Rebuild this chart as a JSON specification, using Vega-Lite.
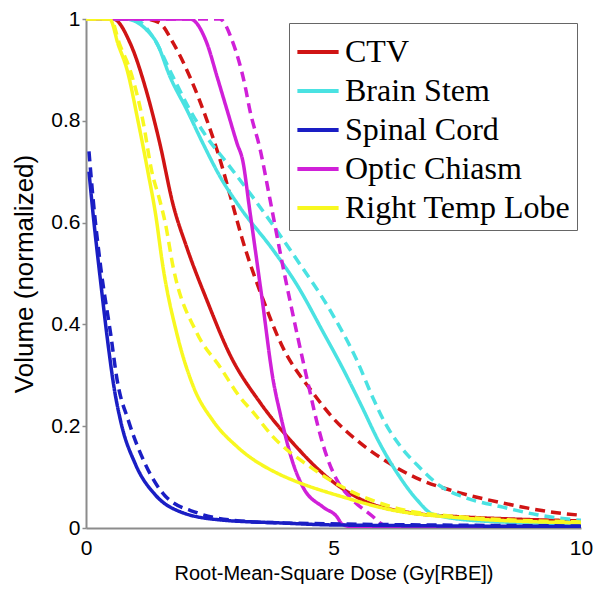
{
  "$schema": "https://vega.github.io/schema/vega-lite/v6.json",
  "width": 495,
  "height": 509,
  "autosize": {"type": "none"},
  "padding": {"left": 86, "top": 19, "right": 23, "bottom": 66},
  "background": "white",
  "config": {
    "view": {"stroke": null},
    "axis": {
      "domainColor": "#8c8c8c",
      "domainWidth": 2,
      "tickColor": "#8c8c8c",
      "tickWidth": 1.5,
      "grid": false,
      "labelFont": "Liberation Sans",
      "labelColor": "#000",
      "titleFont": "Liberation Sans",
      "titleColor": "#000",
      "titleFontWeight": "normal"
    }
  },
  "data": {"values": [
    {"organ":"CTV","plan":"A","x":0,"y":1},{"organ":"CTV","plan":"A","x":0.55,"y":1},{"organ":"CTV","plan":"A","x":0.89,"y":0.953},{"organ":"CTV","plan":"A","x":1.23,"y":0.855},{"organ":"CTV","plan":"A","x":1.49,"y":0.756},{"organ":"CTV","plan":"A","x":1.76,"y":0.635},{"organ":"CTV","plan":"A","x":2.04,"y":0.55},{"organ":"CTV","plan":"A","x":2.44,"y":0.448},{"organ":"CTV","plan":"A","x":2.91,"y":0.34},{"organ":"CTV","plan":"A","x":3.52,"y":0.246},{"organ":"CTV","plan":"A","x":4.18,"y":0.167},{"organ":"CTV","plan":"A","x":4.87,"y":0.1},{"organ":"CTV","plan":"A","x":5.54,"y":0.057},{"organ":"CTV","plan":"A","x":6.55,"y":0.03},{"organ":"CTV","plan":"A","x":7.56,"y":0.022},{"organ":"CTV","plan":"A","x":8.5,"y":0.018},{"organ":"CTV","plan":"A","x":10,"y":0.014},
    {"organ":"CTV","plan":"B","x":0,"y":1},{"organ":"CTV","plan":"B","x":1.2,"y":1},{"organ":"CTV","plan":"B","x":1.49,"y":0.992},{"organ":"CTV","plan":"B","x":1.76,"y":0.953},{"organ":"CTV","plan":"B","x":2.1,"y":0.886},{"organ":"CTV","plan":"B","x":2.44,"y":0.802},{"organ":"CTV","plan":"B","x":2.71,"y":0.723},{"organ":"CTV","plan":"B","x":2.95,"y":0.64},{"organ":"CTV","plan":"B","x":3.15,"y":0.57},{"organ":"CTV","plan":"B","x":3.58,"y":0.448},{"organ":"CTV","plan":"B","x":3.95,"y":0.36},{"organ":"CTV","plan":"B","x":4.59,"y":0.265},{"organ":"CTV","plan":"B","x":5.0,"y":0.215},{"organ":"CTV","plan":"B","x":5.5,"y":0.17},{"organ":"CTV","plan":"B","x":6.08,"y":0.13},{"organ":"CTV","plan":"B","x":6.75,"y":0.095},{"organ":"CTV","plan":"B","x":7.41,"y":0.073},{"organ":"CTV","plan":"B","x":8.42,"y":0.049},{"organ":"CTV","plan":"B","x":9.43,"y":0.031},{"organ":"CTV","plan":"B","x":10,"y":0.025},
    {"organ":"Brain Stem","plan":"A","x":0,"y":1},{"organ":"Brain Stem","plan":"A","x":0.8,"y":1},{"organ":"Brain Stem","plan":"A","x":1.23,"y":0.978},{"organ":"Brain Stem","plan":"A","x":1.43,"y":0.953},{"organ":"Brain Stem","plan":"A","x":1.7,"y":0.886},{"organ":"Brain Stem","plan":"A","x":2.04,"y":0.821},{"organ":"Brain Stem","plan":"A","x":2.36,"y":0.756},{"organ":"Brain Stem","plan":"A","x":2.71,"y":0.69},{"organ":"Brain Stem","plan":"A","x":3.11,"y":0.63},{"organ":"Brain Stem","plan":"A","x":3.78,"y":0.546},{"organ":"Brain Stem","plan":"A","x":4.26,"y":0.478},{"organ":"Brain Stem","plan":"A","x":4.79,"y":0.385},{"organ":"Brain Stem","plan":"A","x":5.19,"y":0.313},{"organ":"Brain Stem","plan":"A","x":5.54,"y":0.245},{"organ":"Brain Stem","plan":"A","x":5.94,"y":0.165},{"organ":"Brain Stem","plan":"A","x":6.34,"y":0.1},{"organ":"Brain Stem","plan":"A","x":6.69,"y":0.055},{"organ":"Brain Stem","plan":"A","x":7.01,"y":0.027},{"organ":"Brain Stem","plan":"A","x":7.96,"y":0.014},{"organ":"Brain Stem","plan":"A","x":10,"y":0.008},
    {"organ":"Brain Stem","plan":"B","x":0,"y":1},{"organ":"Brain Stem","plan":"B","x":0.9,"y":1},{"organ":"Brain Stem","plan":"B","x":1.03,"y":0.998},{"organ":"Brain Stem","plan":"B","x":1.35,"y":0.965},{"organ":"Brain Stem","plan":"B","x":1.76,"y":0.886},{"organ":"Brain Stem","plan":"B","x":2.1,"y":0.821},{"organ":"Brain Stem","plan":"B","x":2.44,"y":0.768},{"organ":"Brain Stem","plan":"B","x":2.85,"y":0.717},{"organ":"Brain Stem","plan":"B","x":3.37,"y":0.65},{"organ":"Brain Stem","plan":"B","x":4.26,"y":0.527},{"organ":"Brain Stem","plan":"B","x":4.93,"y":0.428},{"organ":"Brain Stem","plan":"B","x":5.47,"y":0.33},{"organ":"Brain Stem","plan":"B","x":5.8,"y":0.255},{"organ":"Brain Stem","plan":"B","x":6.05,"y":0.205},{"organ":"Brain Stem","plan":"B","x":6.34,"y":0.162},{"organ":"Brain Stem","plan":"B","x":6.75,"y":0.118},{"organ":"Brain Stem","plan":"B","x":7.15,"y":0.083},{"organ":"Brain Stem","plan":"B","x":7.62,"y":0.061},{"organ":"Brain Stem","plan":"B","x":8.42,"y":0.041},{"organ":"Brain Stem","plan":"B","x":9.11,"y":0.026},{"organ":"Brain Stem","plan":"B","x":10,"y":0.015},
    {"organ":"Optic Chiasm","plan":"A","x":0,"y":1},{"organ":"Optic Chiasm","plan":"A","x":2.1,"y":1},{"organ":"Optic Chiasm","plan":"A","x":2.44,"y":0.953},{"organ":"Optic Chiasm","plan":"A","x":2.65,"y":0.886},{"organ":"Optic Chiasm","plan":"A","x":2.85,"y":0.821},{"organ":"Optic Chiasm","plan":"A","x":3.05,"y":0.756},{"organ":"Optic Chiasm","plan":"A","x":3.17,"y":0.72},{"organ":"Optic Chiasm","plan":"A","x":3.3,"y":0.63},{"organ":"Optic Chiasm","plan":"A","x":3.56,"y":0.448},{"organ":"Optic Chiasm","plan":"A","x":3.78,"y":0.291},{"organ":"Optic Chiasm","plan":"A","x":3.92,"y":0.226},{"organ":"Optic Chiasm","plan":"A","x":4.18,"y":0.128},{"organ":"Optic Chiasm","plan":"A","x":4.38,"y":0.081},{"organ":"Optic Chiasm","plan":"A","x":4.79,"y":0.041},{"organ":"Optic Chiasm","plan":"A","x":5.07,"y":0.022},{"organ":"Optic Chiasm","plan":"A","x":5.17,"y":0.008},{"organ":"Optic Chiasm","plan":"A","x":5.4,"y":0.002},{"organ":"Optic Chiasm","plan":"A","x":8.4,"y":0},
    {"organ":"Optic Chiasm","plan":"B","x":0,"y":1},{"organ":"Optic Chiasm","plan":"B","x":2.7,"y":1},{"organ":"Optic Chiasm","plan":"B","x":2.97,"y":0.953},{"organ":"Optic Chiasm","plan":"B","x":3.21,"y":0.87},{"organ":"Optic Chiasm","plan":"B","x":3.31,"y":0.821},{"organ":"Optic Chiasm","plan":"B","x":3.52,"y":0.743},{"organ":"Optic Chiasm","plan":"B","x":3.72,"y":0.644},{"organ":"Optic Chiasm","plan":"B","x":3.98,"y":0.513},{"organ":"Optic Chiasm","plan":"B","x":4.26,"y":0.383},{"organ":"Optic Chiasm","plan":"B","x":4.53,"y":0.265},{"organ":"Optic Chiasm","plan":"B","x":4.62,"y":0.226},{"organ":"Optic Chiasm","plan":"B","x":4.87,"y":0.139},{"organ":"Optic Chiasm","plan":"B","x":5.07,"y":0.094},{"organ":"Optic Chiasm","plan":"B","x":5.39,"y":0.055},{"organ":"Optic Chiasm","plan":"B","x":5.8,"y":0.022},{"organ":"Optic Chiasm","plan":"B","x":5.94,"y":0.01},{"organ":"Optic Chiasm","plan":"B","x":6.1,"y":0.003},{"organ":"Optic Chiasm","plan":"B","x":10,"y":0.002},
    {"organ":"Right Temp Lobe","plan":"A","x":0,"y":1},{"organ":"Right Temp Lobe","plan":"A","x":0.48,"y":1},{"organ":"Right Temp Lobe","plan":"A","x":0.65,"y":0.95},{"organ":"Right Temp Lobe","plan":"A","x":0.83,"y":0.9},{"organ":"Right Temp Lobe","plan":"A","x":1.05,"y":0.8},{"organ":"Right Temp Lobe","plan":"A","x":1.25,"y":0.7},{"organ":"Right Temp Lobe","plan":"A","x":1.4,"y":0.62},{"organ":"Right Temp Lobe","plan":"A","x":1.56,"y":0.51},{"organ":"Right Temp Lobe","plan":"A","x":1.84,"y":0.38},{"organ":"Right Temp Lobe","plan":"A","x":2.16,"y":0.28},{"organ":"Right Temp Lobe","plan":"A","x":2.57,"y":0.21},{"organ":"Right Temp Lobe","plan":"A","x":3.05,"y":0.16},{"organ":"Right Temp Lobe","plan":"A","x":3.92,"y":0.105},{"organ":"Right Temp Lobe","plan":"A","x":4.18,"y":0.094},{"organ":"Right Temp Lobe","plan":"A","x":5.19,"y":0.061},{"organ":"Right Temp Lobe","plan":"A","x":6.2,"y":0.035},{"organ":"Right Temp Lobe","plan":"A","x":7.56,"y":0.02},{"organ":"Right Temp Lobe","plan":"A","x":10,"y":0.01},
    {"organ":"Right Temp Lobe","plan":"B","x":0,"y":1},{"organ":"Right Temp Lobe","plan":"B","x":0.5,"y":1},{"organ":"Right Temp Lobe","plan":"B","x":0.68,"y":0.95},{"organ":"Right Temp Lobe","plan":"B","x":0.89,"y":0.9},{"organ":"Right Temp Lobe","plan":"B","x":1.15,"y":0.8},{"organ":"Right Temp Lobe","plan":"B","x":1.33,"y":0.7},{"organ":"Right Temp Lobe","plan":"B","x":1.49,"y":0.644},{"organ":"Right Temp Lobe","plan":"B","x":1.6,"y":0.6},{"organ":"Right Temp Lobe","plan":"B","x":1.76,"y":0.513},{"organ":"Right Temp Lobe","plan":"B","x":2.24,"y":0.383},{"organ":"Right Temp Lobe","plan":"B","x":2.71,"y":0.316},{"organ":"Right Temp Lobe","plan":"B","x":3.11,"y":0.257},{"organ":"Right Temp Lobe","plan":"B","x":3.37,"y":0.228},{"organ":"Right Temp Lobe","plan":"B","x":3.78,"y":0.179},{"organ":"Right Temp Lobe","plan":"B","x":4.53,"y":0.12},{"organ":"Right Temp Lobe","plan":"B","x":5.19,"y":0.08},{"organ":"Right Temp Lobe","plan":"B","x":6.2,"y":0.041},{"organ":"Right Temp Lobe","plan":"B","x":7.56,"y":0.022},{"organ":"Right Temp Lobe","plan":"B","x":10,"y":0.012},
    {"organ":"Spinal Cord","plan":"A","x":0.06,"y":0.70},{"organ":"Spinal Cord","plan":"A","x":0.14,"y":0.62},{"organ":"Spinal Cord","plan":"A","x":0.3,"y":0.48},{"organ":"Spinal Cord","plan":"A","x":0.46,"y":0.35},{"organ":"Spinal Cord","plan":"A","x":0.56,"y":0.28},{"organ":"Spinal Cord","plan":"A","x":0.7,"y":0.21},{"organ":"Spinal Cord","plan":"A","x":1.0,"y":0.125},{"organ":"Spinal Cord","plan":"A","x":1.4,"y":0.065},{"organ":"Spinal Cord","plan":"A","x":1.9,"y":0.032},{"organ":"Spinal Cord","plan":"A","x":2.7,"y":0.016},{"organ":"Spinal Cord","plan":"A","x":3.92,"y":0.01},{"organ":"Spinal Cord","plan":"A","x":5,"y":0.006},{"organ":"Spinal Cord","plan":"A","x":10,"y":0.003},
    {"organ":"Spinal Cord","plan":"B","x":0.06,"y":0.74},{"organ":"Spinal Cord","plan":"B","x":0.14,"y":0.65},{"organ":"Spinal Cord","plan":"B","x":0.3,"y":0.51},{"organ":"Spinal Cord","plan":"B","x":0.5,"y":0.38},{"organ":"Spinal Cord","plan":"B","x":0.63,"y":0.29},{"organ":"Spinal Cord","plan":"B","x":0.86,"y":0.21},{"organ":"Spinal Cord","plan":"B","x":1.2,"y":0.125},{"organ":"Spinal Cord","plan":"B","x":1.6,"y":0.063},{"organ":"Spinal Cord","plan":"B","x":2.24,"y":0.03},{"organ":"Spinal Cord","plan":"B","x":2.89,"y":0.016},{"organ":"Spinal Cord","plan":"B","x":3.92,"y":0.01},{"organ":"Spinal Cord","plan":"B","x":10,"y":0.004}
  ]},
  "mark": {"type": "line", "strokeWidth": 3.5, "clip": true, "interpolate": "monotone"},
  "encoding": {
    "x": {
      "field": "x", "type": "quantitative",
      "scale": {"domain": [0, 10], "nice": false},
      "axis": {"values": [0, 5, 10], "format": "d", "title": "Root-Mean-Square Dose (Gy[RBE])", "titleFontSize": 20, "titlePadding": 5, "labelFontSize": 21, "tickSize": 0, "labelPadding": 9, "labelFlush": false}
    },
    "y": {
      "field": "y", "type": "quantitative",
      "scale": {"domain": [0, 1], "nice": false},
      "axis": {"values": [0, 0.2, 0.4, 0.6, 0.8, 1], "format": ".1~f", "title": "Volume (normalized)", "titleFontSize": 26, "titlePadding": 13, "labelFontSize": 21, "tickSize": 4, "labelPadding": 2, "labelFlush": false}
    },
    "color": {
      "field": "organ", "type": "nominal",
      "scale": {
        "domain": ["CTV", "Brain Stem", "Spinal Cord", "Optic Chiasm", "Right Temp Lobe"],
        "range": ["#d01414", "#4ae2e2", "#1a1ec4", "#d020d8", "#f8f820"]
      },
      "legend": {
        "title": null,
        "orient": "none",
        "legendX": 203,
        "legendY": 4,
        "symbolType": "stroke",
        "symbolSize": 1700,
        "symbolStrokeWidth": 4,
        "labelFont": "Liberation Serif",
        "labelFontSize": 32,
        "labelColor": "#000",
        "labelOffset": 4,
        "labelLimit": 400,
        "rowPadding": 0,
        "padding": 6,
        "strokeColor": "#666",
        "fillColor": "white"
      }
    },
    "strokeDash": {
      "field": "plan", "type": "nominal",
      "scale": {"domain": ["A", "B"], "range": [[1, 0], [10, 6]]},
      "legend": null
    }
  }
}
